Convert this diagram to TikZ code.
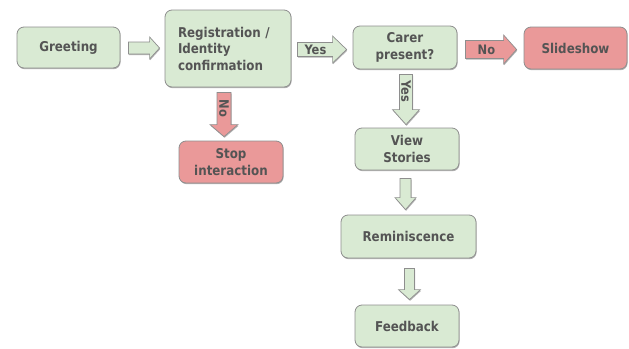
\documentclass[tikz,border=0pt]{standalone}
\usepackage{fontspec}
\setmainfont{DejaVu Sans}[FakeStretch=0.88]
\usetikzlibrary{calc,shadows}
\definecolor{gfill}{HTML}{D9EAD3}
\definecolor{rfill}{HTML}{EA9999}
\definecolor{bgray}{HTML}{8E8E8E}
\definecolor{tgray}{HTML}{545454}
\tikzset{
  shad/.style={drop shadow={shadow xshift=0.6pt,shadow yshift=-1.2pt,opacity=0.3,fill=black}},
  box/.style={draw=bgray,line width=0.8pt,rounded corners=7pt,fill=gfill,shad,
    font=\fontsize{13.5}{16.5}\selectfont\bfseries,text=tgray,align=center,inner sep=2pt},
  redbox/.style={box,fill=rfill},
  garrow/.style={draw=bgray,line width=0.7pt,fill=gfill,shad},
  rarrow/.style={draw=bgray,line width=0.7pt,fill=rfill,shad},
  lbl/.style={font=\fontsize{13}{13}\selectfont\bfseries,text=tgray,inner sep=0pt},
}
% horizontal block arrow: style, from, to, half shaft, half head, head length
\newcommand\harrow[6]{%
  \path[#1] let \p1=(#2), \p2=(#3) in
    (\x1,\y1+#4pt) -- (\x2-#6pt,\y1+#4pt) -- (\x2-#6pt,\y1+#5pt) -- (\x2,\y1)
    -- (\x2-#6pt,\y1-#5pt) -- (\x2-#6pt,\y1-#4pt) -- (\x1,\y1-#4pt) -- cycle;}
% vertical (downward) block arrow
\newcommand\varrow[6]{%
  \path[#1] let \p1=(#2), \p2=(#3) in
    (\x1-#4pt,\y1) -- (\x1-#4pt,\y2+#6pt) -- (\x1-#5pt,\y2+#6pt) -- (\x1,\y2)
    -- (\x1+#5pt,\y2+#6pt) -- (\x1+#4pt,\y2+#6pt) -- (\x1+#4pt,\y1) -- cycle;}
\begin{document}
\begin{tikzpicture}[x=1pt,y=-1pt]
\useasboundingbox (0,0) rectangle (629,348);
% nodes
\node[box,minimum width=103pt,minimum height=41pt] (greet) at (68.5,47.5) {Greeting};
\node[box,minimum width=126pt,minimum height=77pt,text width=100pt,align=left,inner xsep=11pt] (reg) at (228,48.5) {Registration /\\Identity\\confirmation};
\node[redbox,minimum width=104pt,minimum height=42pt] (stop) at (231,162) {Stop\\interaction};
\node[box,minimum width=104pt,minimum height=43pt] (carer) at (405,47.5) {Carer\\present?};
\node[redbox,minimum width=103pt,minimum height=42pt] (slide) at (575.5,48) {Slideshow};
\node[box,minimum width=104pt,minimum height=42pt] (view) at (407,149) {View\\Stories};
\node[box,minimum width=135pt,minimum height=43pt] (rem) at (408.5,236.5) {Reminiscence};
\node[box,minimum width=104pt,minimum height=42pt] (feed) at (407,326) {Feedback};
% connector end points
\coordinate (a1s) at ($(greet.east)+(8,0.5)$);
\coordinate (a1e) at ($(reg.west)+(-5,0)$);
\coordinate (a2s) at ($(reg.east)+(6,1)$);
\coordinate (a2e) at ($(carer.west)+(-6,0)$);
\coordinate (a3s) at ($(carer.east)+(8,2)$);
\coordinate (a3e) at ($(slide.west)+(-7,0)$);
\coordinate (a4s) at ($(reg.south)+(-4,5)$);
\coordinate (a4e) at ($(stop.north)+(0,-4)$);
\coordinate (a5s) at ($(carer.south)+(1,5)$);
\coordinate (a5e) at ($(view.north)+(0,-3)$);
\coordinate (a6s) at ($(view.south)+(-1.5,8)$);
\coordinate (a6e) at ($(rem.north)+(0,-5)$);
\coordinate (a7s) at ($(rem.south)+(1,10)$);
\coordinate (a7e) at ($(feed.north)+(0,-5)$);
% block arrows
\harrow{garrow}{a1s}{a1e}{6}{11}{10}
\harrow{garrow}{a2s}{a2e}{7}{13.5}{14}
\harrow{rarrow}{a3s}{a3e}{9}{14.5}{13}
\varrow{rarrow}{a4s}{a4e}{7}{14}{12}
\varrow{garrow}{a5s}{a5e}{6.5}{13.5}{15}
\varrow{garrow}{a6s}{a6e}{5.5}{10.5}{12}
\varrow{garrow}{a7s}{a7e}{5}{11}{10}
% labels
\node[lbl] (yes1) at ($(a2s)+(18,0.5)$) {Yes};
\node[lbl] (no1) at ($(a3s)+(21,0.5)$) {No};
\node[lbl,rotate=-90] (no2) at ($(a4s)+(0,16)$) {No};
\node[lbl,rotate=-90] (yes2) at ($(a5s)+(0,17)$) {Yes};
\end{tikzpicture}
\end{document}
